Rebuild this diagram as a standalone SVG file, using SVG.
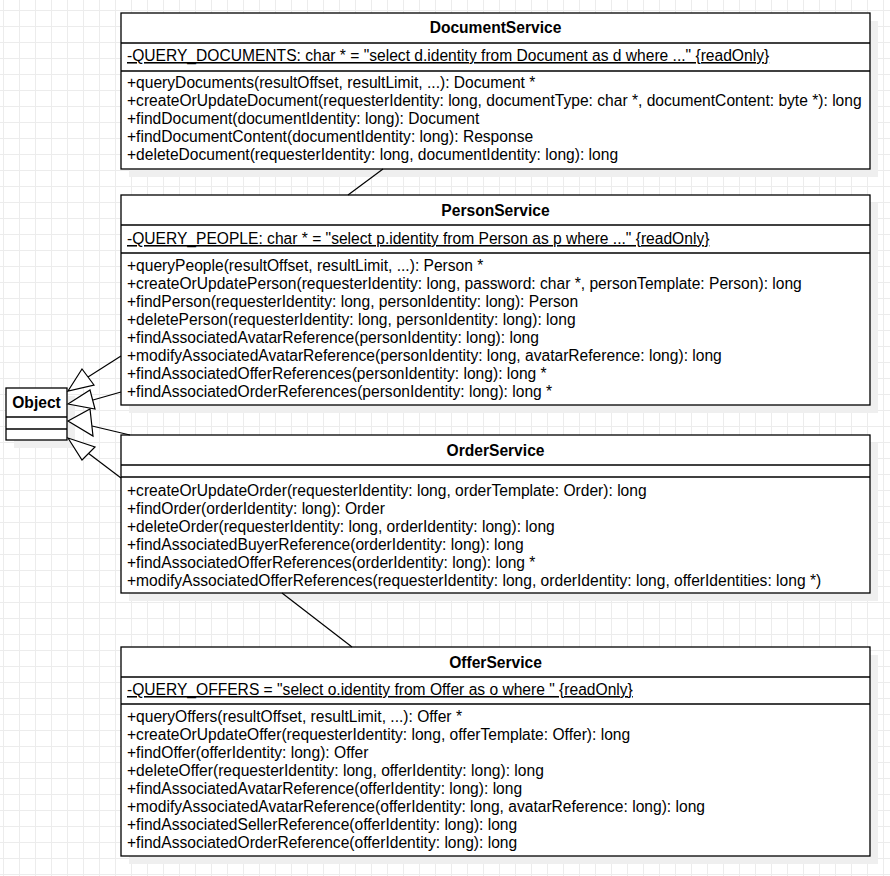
<svg xmlns="http://www.w3.org/2000/svg" width="890" height="876" viewBox="0 0 890 876">
<defs>
<pattern id="grid" x="3" y="10" width="16" height="16" patternUnits="userSpaceOnUse">
<path d="M0 0.5H16M0.5 0V16" fill="none" stroke="#ececec" stroke-width="1"/>
</pattern>
</defs>
<style>
.box{fill:#fff;stroke:#000;stroke-width:1.3}
.sh{fill:#efefef}
.sep{stroke:#000;stroke-width:1.3}
.t{font-family:"Liberation Sans",Arial,sans-serif;font-size:15.6px;fill:#000}
.b{font-weight:bold;text-anchor:middle}
.u{text-decoration:underline}
.ln{stroke:#000;stroke-width:1.2;fill:none}
.hd{fill:#fff;stroke:#000;stroke-width:1.2}
</style>
<rect width="890" height="876" fill="#fff"/>
<rect width="890" height="876" fill="url(#grid)"/>

<g id="Object">
<rect class="sh" x="14" y="396" width="61" height="52"/>
<rect class="box" x="6" y="388" width="61" height="52"/>
<line class="sep" x1="6" y1="417" x2="67" y2="417"/>
<line class="sep" x1="6" y1="429" x2="67" y2="429"/>
<text class="t b" x="36.5" y="408">Object</text>
</g>

<g id="DocumentService">
<rect class="sh" x="129" y="21" width="749" height="156"/>
<rect class="box" x="121" y="13" width="749" height="156"/>
<line class="sep" x1="121" y1="43" x2="870" y2="43"/>
<line class="sep" x1="121" y1="71" x2="870" y2="71"/>
<text class="t b" x="495.5" y="33">DocumentService</text>
<text class="t u" x="127" y="61">-QUERY_DOCUMENTS: char * = "select d.identity from Document as d where ..." {readOnly}</text>
<text class="t" x="127" y="88">+queryDocuments(resultOffset, resultLimit, ...): Document *</text>
<text class="t" x="127" y="106">+createOrUpdateDocument(requesterIdentity: long, documentType: char *, documentContent: byte *): long</text>
<text class="t" x="127" y="124">+findDocument(documentIdentity: long): Document</text>
<text class="t" x="127" y="142">+findDocumentContent(documentIdentity: long): Response</text>
<text class="t" x="127" y="160">+deleteDocument(requesterIdentity: long, documentIdentity: long): long</text>
</g>

<g id="PersonService">
<rect class="sh" x="129" y="203" width="749" height="210"/>
<rect class="box" x="121" y="195" width="749" height="210"/>
<line class="sep" x1="121" y1="225" x2="870" y2="225"/>
<line class="sep" x1="121" y1="253" x2="870" y2="253"/>
<text class="t b" x="495.5" y="216">PersonService</text>
<text class="t u" x="127" y="244">-QUERY_PEOPLE: char * = "select p.identity from Person as p where ..." {readOnly}</text>
<text class="t" x="127" y="271">+queryPeople(resultOffset, resultLimit, ...): Person *</text>
<text class="t" x="127" y="289">+createOrUpdatePerson(requesterIdentity: long, password: char *, personTemplate: Person): long</text>
<text class="t" x="127" y="307">+findPerson(requesterIdentity: long, personIdentity: long): Person</text>
<text class="t" x="127" y="325">+deletePerson(requesterIdentity: long, personIdentity: long): long</text>
<text class="t" x="127" y="343">+findAssociatedAvatarReference(personIdentity: long): long</text>
<text class="t" x="127" y="361">+modifyAssociatedAvatarReference(personIdentity: long, avatarReference: long): long</text>
<text class="t" x="127" y="379">+findAssociatedOfferReferences(personIdentity: long): long *</text>
<text class="t" x="127" y="397">+findAssociatedOrderReferences(personIdentity: long): long *</text>
</g>

<g id="OrderService">
<rect class="sh" x="129" y="443" width="749" height="158"/>
<rect class="box" x="121" y="435" width="749" height="158"/>
<line class="sep" x1="121" y1="465" x2="870" y2="465"/>
<line class="sep" x1="121" y1="477" x2="870" y2="477"/>
<text class="t b" x="495.5" y="456">OrderService</text>
<text class="t" x="127" y="496">+createOrUpdateOrder(requesterIdentity: long, orderTemplate: Order): long</text>
<text class="t" x="127" y="514">+findOrder(orderIdentity: long): Order</text>
<text class="t" x="127" y="532">+deleteOrder(requesterIdentity: long, orderIdentity: long): long</text>
<text class="t" x="127" y="550">+findAssociatedBuyerReference(orderIdentity: long): long</text>
<text class="t" x="127" y="568">+findAssociatedOfferReferences(orderIdentity: long): long *</text>
<text class="t" x="127" y="586">+modifyAssociatedOfferReferences(requesterIdentity: long, orderIdentity: long, offerIdentities: long *)</text>
</g>

<g id="OfferService">
<rect class="sh" x="129" y="655" width="749" height="209"/>
<rect class="box" x="121" y="647" width="749" height="209"/>
<line class="sep" x1="121" y1="677" x2="870" y2="677"/>
<line class="sep" x1="121" y1="704" x2="870" y2="704"/>
<text class="t b" x="495.5" y="668">OfferService</text>
<text class="t u" x="127" y="695">-QUERY_OFFERS = "select o.identity from Offer as o where " {readOnly}</text>
<text class="t" x="127" y="722">+queryOffers(resultOffset, resultLimit, ...): Offer *</text>
<text class="t" x="127" y="740">+createOrUpdateOffer(requesterIdentity: long, offerTemplate: Offer): long</text>
<text class="t" x="127" y="758">+findOffer(offerIdentity: long): Offer</text>
<text class="t" x="127" y="776">+deleteOffer(requesterIdentity: long, offerIdentity: long): long</text>
<text class="t" x="127" y="794">+findAssociatedAvatarReference(offerIdentity: long): long</text>
<text class="t" x="127" y="812">+modifyAssociatedAvatarReference(offerIdentity: long, avatarReference: long): long</text>
<text class="t" x="127" y="830">+findAssociatedSellerReference(offerIdentity: long): long</text>
<text class="t" x="127" y="848">+findAssociatedOrderReference(offerIdentity: long): long</text>
</g>

<g id="connectors">
<line class="ln" x1="383" y1="169" x2="348" y2="195"/>
<line class="ln" x1="282" y1="593" x2="352" y2="647"/>
<line class="ln" x1="121" y1="356" x2="88" y2="377"/>
<path class="hd" d="M68 391 L82 369 L94 385 Z"/>
<line class="ln" x1="121" y1="392" x2="93" y2="400"/>
<path class="hd" d="M68 404 L90 390 L95 409 Z"/>
<line class="ln" x1="130" y1="435" x2="92" y2="426"/>
<path class="hd" d="M68 421 L90 409 L93 436 Z"/>
<line class="ln" x1="121" y1="478" x2="88" y2="453"/>
<path class="hd" d="M68 438 L82 460 L95 447 Z"/>
</g>
</svg>
